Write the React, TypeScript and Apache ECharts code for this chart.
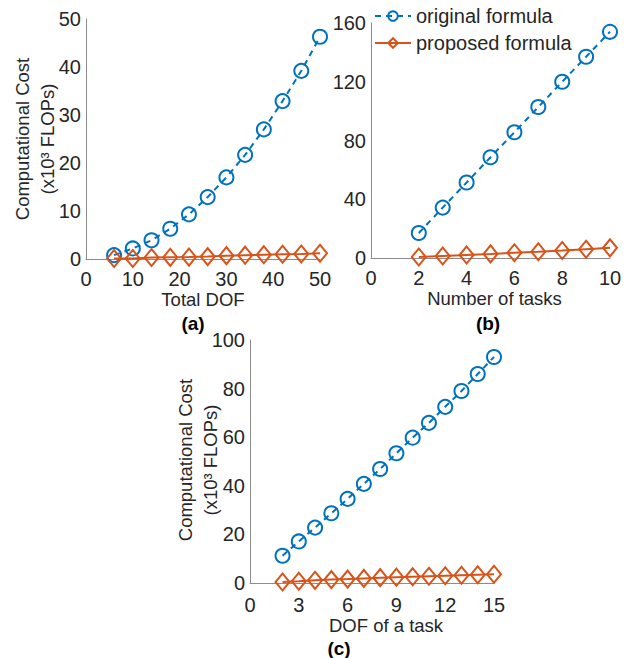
import React, { useEffect, useRef } from "react";
import * as echarts from "echarts";

// (a) Total DOF
const dofTotal = [6, 10, 14, 18, 22, 26, 30, 34, 38, 42, 46, 50];
const origA = [0.8, 2.2, 3.9, 6.3, 9.3, 12.9, 17.0, 21.7, 27.0, 32.9, 39.2, 46.3];
const propA = [0.1, 0.1, 0.3, 0.35, 0.4, 0.5, 0.7, 0.8, 0.9, 1.0, 1.05, 1.2];

// (b) Number of tasks
const numTasks = [2, 3, 4, 5, 6, 7, 8, 9, 10];
const origB = [17.0, 34.3, 51.4, 68.6, 85.6, 102.8, 120.0, 137.0, 154.0];
const propB = [0.7, 1.4, 2.1, 2.8, 3.6, 4.3, 5.1, 6.0, 6.9];

// (c) DOF of a task
const dofTask = [2, 3, 4, 5, 6, 7, 8, 9, 10, 11, 12, 13, 14, 15];
const origC = [11.2, 17.1, 22.8, 28.7, 34.6, 40.8, 46.9, 53.4, 59.8, 65.9, 72.5, 79.0, 86.0, 93.0];
const propC = [0.4, 0.7, 1.1, 1.4, 1.6, 1.9, 2.2, 2.4, 2.6, 2.8, 3.0, 3.2, 3.4, 3.6];

const seriesNames = ["original formula", "proposed formula"];
const yTitle = "Computational Cost\n(x10\u00B3 FLOPs)";

const BLUE = "#0072BD";
const ORANGE = "#D95319";
const TXT = "#262626";
const AXIS = "#8c8c8c";
const FONT = "Liberation Sans, Arial, Helvetica, sans-serif";
const TICK_FS = 20;
const TITLE_FS = 18.5;

function pairs(xs: number[], ys: number[]) {
  return xs.map((x, i) => [x, ys[i]]);
}

export default function App() {
  const ref = useRef<HTMLDivElement>(null);
  useEffect(() => {
    if (!ref.current) return;
    const chart = echarts.init(ref.current, undefined, { renderer: "svg" });

    const xAxisBase = (idx: number, max: number, interval: number, name: string, pad: number[], margin: number, gap: number) => ({
      type: "value",
      gridIndex: idx,
      min: 0,
      max,
      interval,
      name,
      nameLocation: "middle",
      nameGap: gap,
      nameTextStyle: { fontSize: TITLE_FS, color: TXT, fontFamily: FONT, padding: pad },
      axisLine: { show: true, lineStyle: { color: AXIS, width: 1 } },
      axisTick: { show: false },
      splitLine: { show: false },
      axisLabel: { fontSize: TICK_FS, color: TXT, fontFamily: FONT, margin },
    });
    const yAxisBase = (idx: number, max: number, interval: number) => ({
      type: "value",
      gridIndex: idx,
      min: 0,
      max,
      interval,
      axisLine: { show: true, lineStyle: { color: AXIS, width: 1 } },
      axisTick: { show: false },
      splitLine: { show: false },
      axisLabel: { fontSize: TICK_FS, color: TXT, fontFamily: FONT, margin: 5 },
    });

    const origSeries = (idx: number, xs: number[], ys: number[]) => ({
      type: "line",
      name: seriesNames[0],
      xAxisIndex: idx,
      yAxisIndex: idx,
      data: pairs(xs, ys),
      symbol: "circle",
      symbolSize: 14,
      showAllSymbol: true,
      lineStyle: { color: BLUE, width: 2, type: [6, 5] },
      itemStyle: { color: "rgba(255,255,255,0)", borderColor: BLUE, borderWidth: 2 },
      z: 2,
    });
    const propSeries = (idx: number, xs: number[], ys: number[]) => ({
      type: "line",
      name: seriesNames[1],
      xAxisIndex: idx,
      yAxisIndex: idx,
      data: pairs(xs, ys),
      symbol: "diamond",
      symbolSize: [14, 17],
      showAllSymbol: true,
      lineStyle: { color: ORANGE, width: 2 },
      itemStyle: { color: "rgba(255,255,255,0)", borderColor: ORANGE, borderWidth: 2 },
      z: 3,
    });

    const yTitleText = (x: number, y: number) => ({
      type: "text",
      x,
      y,
      rotation: Math.PI / 2,
      style: {
        text: yTitle,
        fontSize: TITLE_FS,
        lineHeight: 25,
        fill: TXT,
        fontFamily: FONT,
        align: "center",
        verticalAlign: "middle",
      },
    });
    const panelLabel = (text: string, x: number, y: number) => ({
      type: "text",
      x,
      y,
      style: { text, fontSize: 19, fontWeight: "bold", fill: "#000", fontFamily: FONT, align: "center", verticalAlign: "middle" },
    });

    chart.setOption({
      animation: false,
      backgroundColor: "#ffffff",
      textStyle: { fontFamily: FONT },
      grid: [
        { left: 86, top: 19, width: 234, height: 240 },
        { left: 371, top: 23, width: 239, height: 235 },
        { left: 250, top: 340, width: 244, height: 243 },
      ],
      xAxis: [
        xAxisBase(0, 50, 10, "Total DOF", [0, 0, 0, 0], 10, 30),
        xAxisBase(1, 10, 2, "Number of tasks", [0, 0, 0, 8], 10, 30),
        xAxisBase(2, 15, 3, "DOF of a task", [0, 0, 0, 28], 12, 31),
      ],
      yAxis: [yAxisBase(0, 50, 10), yAxisBase(1, 160, 40), yAxisBase(2, 100, 20)],
      legend: {
        data: seriesNames,
        orient: "vertical",
        left: 369,
        top: 1,
        itemWidth: 36,
        itemHeight: 12,
        itemGap: 7,
        textStyle: { fontSize: 20, color: TXT, fontFamily: FONT },
      },
      series: [
        origSeries(0, dofTotal, origA),
        propSeries(0, dofTotal, propA),
        origSeries(1, numTasks, origB),
        propSeries(1, numTasks, propB),
        origSeries(2, dofTask, origC),
        propSeries(2, dofTask, propC),
      ],
      graphic: [
        yTitleText(35, 139),
        yTitleText(198, 460),
        panelLabel("(a)", 193, 323),
        panelLabel("(b)", 488, 323),
        panelLabel("(c)", 339, 648),
      ],
    });
    return () => chart.dispose();
  }, []);
  return (
    <div
      ref={ref}
      style={{ position: "fixed", left: 0, top: 0, width: 634, height: 658, background: "#fff" }}
    />
  );
}
